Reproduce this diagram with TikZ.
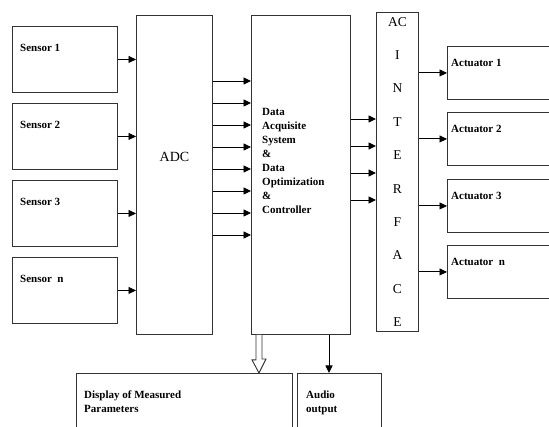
\documentclass[tikz,border=0pt]{standalone}
\usepackage{fontspec}
\setmainfont{Liberation Serif}
\usetikzlibrary{arrows.meta,positioning,calc}

\begin{document}
\begin{tikzpicture}[x=1pt,y=-1pt,>={Triangle[length=7.5pt,width=7pt]},
  blok/.style={draw=black!80, line width=0.9pt, inner sep=0pt, anchor=north west},
  lbl/.style={font=\bfseries\fontsize{11}{14}\selectfont, align=left, inner sep=0pt, anchor=west},
  conn/.style={->, line width=0.9pt},
  hollow/.style={draw=black!80, line width=0.9pt, fill=white}]

\useasboundingbox (0,0) rectangle (549,427);
\clip (0,0) rectangle (549,427);

% =====================
% Blocchi centrali
% =====================
\node[blok, minimum width=76, minimum height=319] (adc) at (136,15) {};
\node[font=\fontsize{14}{16}\selectfont] at ($(adc.center)+(0,-18)$) {ADC};

\node[blok, minimum width=99, minimum height=319] (das) at (251,15) {};
\node[lbl, anchor=north west] (dastxt) at ($(das.north west)+(11,93)$)
  {Data\\Acquisite\\System\\\&\\Data\\Optimization\\\&\\Controller};

\node[blok, minimum width=42, minimum height=319, align=center,
  font=\fontsize{13.5}{33.4}\selectfont] (iface) at (376,12)
  {AC\\I\\N\\T\\E\\R\\F\\A\\C\\E};

% =====================
% Sensori
% =====================
\foreach \i/\t/\y in {1/Sensor 1/26, 2/Sensor 2/103, 3/Sensor 3/180, n/Sensor\ \ n/257} {
  \node[blok, minimum width=105, minimum height=66] (sens\i) at (12,\y) {};
  \node[lbl] at ($(sens\i.north west)+(8,22)$) {\t};
  \draw[conn] (sens\i.east) -- (sens\i.east -| adc.west);
}

% =====================
% ADC -> DAS
% =====================
\foreach \k in {0,...,7} {
  \path (0,{81+22*\k}) coordinate (r\k);
  \draw[conn] (adc.east |- r\k) -- (das.west |- r\k);
}

% =====================
% DAS -> Interface
% =====================
\foreach \k in {0,...,3} {
  \path (0,{119+27*\k}) coordinate (q\k);
  \draw[conn] (das.east |- q\k) -- (iface.west |- q\k);
}

% =====================
% Attuatori
% =====================
\foreach \i/\t/\y in {1/Actuator 1/46, 2/Actuator 2/112, 3/Actuator 3/179, n/Actuator\ \ n/245} {
  \node[blok, minimum width=115, minimum height=53] (act\i) at (447,\y) {};
  \node[lbl] at ($(act\i.north west)+(4,16.5)$) {\t};
  \draw[conn] (iface.east |- act\i.west) -- (act\i.west);
}

% =====================
% Uscite
% =====================
\node[blok, minimum width=216, minimum height=70] (disp) at (76,373) {};
\node[lbl, anchor=north west] at ($(disp.north west)+(8,17.5)$) {Display of Measured\\Parameters};

\node[blok, minimum width=84, minimum height=70] (audio) at (297,373) {};
\node[lbl, anchor=north west] at ($(audio.north west)+(9,17.5)$) {Audio\\output};

\path (das.south west) ++(8,0) coordinate (hol);
\path (das.south west) ++(78,0) coordinate (aud);

\draw[hollow] ($(hol)+(-3,0)$) -- ++(0,25) -- ++(-4,0) -- (hol |- disp.north)
  -- ++(7,-14) -- ++(-4,0) -- ($(hol)+(3,0)$);
\draw[conn] (aud) -- (aud |- audio.north);

\end{tikzpicture}
\end{document}
